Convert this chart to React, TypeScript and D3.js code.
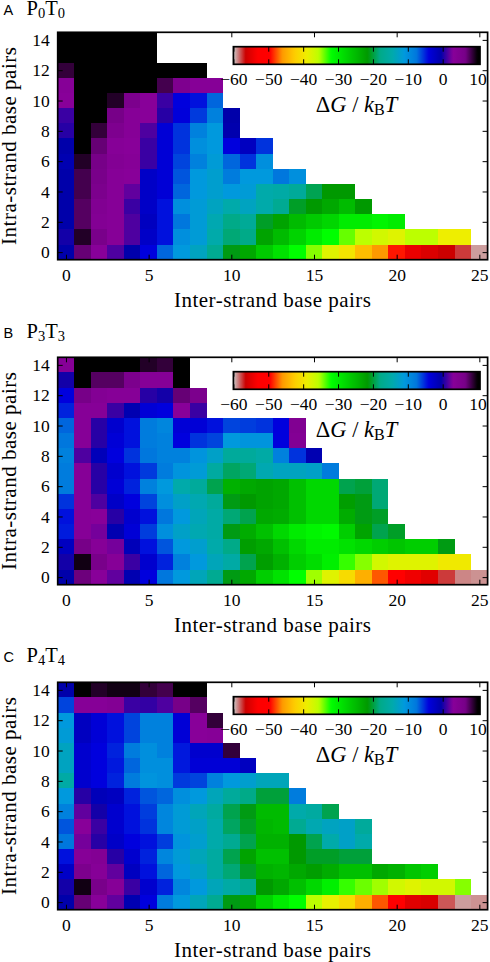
import React, { useRef, useEffect } from 'react';
import * as d3 from 'd3';

const WIDTH = 490;
const HEIGHT = 962;

// rows run from 14 intra-strand pairs at the top down to 0; a row stops where the white area begins
const p0t0 = [
  [10, 10, 10, 10, 10, 10],
  [10, 10, 10, 10, 10, 10],
  [8.5, 10, 10, 10, 10, 10, 10, 10, 10],
  [3.5, 10, 10, 10, 10, 10, 8, 5, 3.5, 3.5],
  [3, 10, 10, 9, 5.5, 3, 1, -4, -4.5, -7],
  [1, 10, 10, 6.5, 3.5, 3, 0.5, -3.8, -5.7, -8.5, -0.5],
  [0.5, 10, 8.5, 5, 3.5, 1.5, -3.5, -5.5, -8.5, -11, -0.8],
  [-0.5, 10, 7, 3.5, 3, 1, -3.5, -5.5, -10, -11, -4, -2, -5.5],
  [-1, 9, 6.5, 4, 3.5, 1, -3.5, -6, -8.5, -11.5, -7, -5.5, -10],
  [-0.5, 8, 6, 3.5, 3, -2.5, -3.5, -6.5, -11, -12, -8, -11, -11, -7.5, -10],
  [-0.5, 8, 5.5, 3.5, 2, -2.5, -3.5, -7, -11, -12, -11, -11.5, -14.5, -15, -16.2, -19.4, -21.5, -21.5],
  [-0.5, 7.5, 4.5, 3.5, 1, -2.5, -4.5, -10, -11.5, -13, -14.5, -13, -14.5, -17, -20.5, -21.5, -23, -25, -21.5],
  [-0.5, 7.5, 4, 3.5, 1.5, -2, -4.5, -7.5, -11.5, -14, -18, -16.5, -20.5, -22.5, -25, -26.5, -27.8, -30, -30, -31, -30],
  [0, 9, 6, 3.5, 1.5, -2.5, -4.5, -10, -11.5, -14.5, -18.5, -18, -22.5, -25, -27.5, -30, -32, -33.9, -35.6, -37, -38, -35.6, -35.6, -39, -39],
  [-0.5, 7, 3, 1.5, -0.5, -4, -7, -11, -13, -17, -21, -23, -26.5, -29, -32, -34.5, -38, -40, -43.5, -46, -49, -54.4, -55.4, -56.5, -57.5, -59.2],
];

const p3t3 = [
  [3.5, 10, 10, 10, 10, 9, 8.5, 10],
  [0, 10, 7.5, 7.5, 5.5, 3.5, 3.5, 10],
  [-4, 6.5, 4, 3.5, 3.5, 0.5, 0, 7, 5.5],
  [-5, 3.5, 3.5, 1, -1, -3.5, -4, 3, 1],
  [-7, 3.5, 0.5, -3, -4.5, -8, -9, -3.5, -3.5, -4.5, -6, -5.8, -5.5, -4, 4.5],
  [-7.5, 3.5, 0.5, -3.5, -4.5, -8, -8.5, -4, -5.5, -6, -11, -10.5, -10.5, -4, 4],
  [-8.5, 1.5, -1.5, -4, -5.5, -7.5, -8.5, -8.5, -10.5, -12.5, -16, -16, -15, -8.5, -5.5, -1],
  [-8, 3.5, 0.5, -3, -4.5, -5.7, -8, -10.5, -11.5, -15.5, -19, -18.5, -14, -13, -13, -12.5, -8],
  [-8, 3.5, 0.5, -3.5, -5, -8.5, -11, -14.5, -16, -19.5, -24, -23, -22.5, -23, -25.5, -28, -28, -19.5, -20, -18.5],
  [-5.5, 3.5, 1.5, -2.5, -4, -6, -10, -12.5, -14, -16, -21, -21.5, -22.5, -23, -25.5, -28, -28, -22, -21, -18.5],
  [-4.5, 3.5, 3, 0.5, -3, -4.5, -7.5, -11, -13.5, -15, -18.5, -19.5, -23, -23.5, -25.5, -28, -28, -23.5, -21, -20.5],
  [-4.8, 3.5, 2.5, -1, -3.5, -5.8, -10, -12.5, -14, -15, -21, -23.5, -25.5, -28, -30, -31, -31.5, -27, -22.5, -19.5, -20.5],
  [-2, 6.5, 3.5, 2.5, -1.5, -4.5, -6.5, -11, -12, -14.5, -18, -22, -23, -25.5, -28, -30, -30, -29, -28, -27, -26, -27, -27, -21],
  [0, 9.5, 6, 3.5, 1, -3, -5, -8.5, -11, -13.5, -15, -19.5, -22, -24, -27, -28.5, -30.5, -33, -34.5, -37, -38, -38, -38, -39.5, -39.5],
  [-0.5, 6.8, 3, 2, -1, -4, -7.5, -11, -13.5, -17, -21, -23, -27, -29, -32, -35, -38, -41, -44.5, -47.5, -50, -54, -55, -57.5, -58.8, -59],
];

const p4t4 = [
  [-0.5, 10, 9, 9.5, 9.5, 8.5, 8, 10, 10],
  [-6, 3.5, 3.5, 4, 1, 0.8, 1.5, 6.5, 7.5],
  [-11, -2, -3.5, -4.5, -6, -8.5, -8.5, -3.5, 3, 8.5],
  [-11.5, -2, -3.5, -4.5, -6, -8.5, -8.5, -3.5, 3, 3.5],
  [-13, -3, -4, -5, -8, -10, -8.5, -4.7, -3, -3, 8.5],
  [-13, -3, -4, -4.7, -7, -10, -10, -4.7, -3.5, -3.5, -3.5, -2],
  [-15, -3, -4, -5, -8, -10.5, -10, -5.7, -6, -8.5, -11, -12, -13.5, -13.5],
  [-11, 0.5, -1.5, -2, -5, -6.5, -7, -10, -11, -13.5, -16, -18, -20, -20, -8],
  [-8.5, 2, 0, -3, -4.5, -5.8, -9, -11.5, -13.5, -15.5, -19.5, -21, -25, -25, -14.5, -15.5, -19.5],
  [-6.5, 3, 1, -3, -4.5, -5.5, -9, -11.5, -12.5, -14.5, -19, -20.5, -24.5, -25, -17, -14, -13, -12.5, -16],
  [-7.5, 2.5, 0.5, -2.5, -4, -4.5, -5.8, -10.5, -12, -14.5, -17, -19.5, -24, -24, -21.5, -19.5, -14.5, -12.5, -14.5],
  [-4.5, 3.5, 4, 0.5, -3, -5, -9, -11.5, -13.5, -15.5, -19.5, -22.5, -25.5, -25.5, -21.5, -20.5, -20.5, -20, -20],
  [-2.5, 5.5, 3.5, 2, -2, -4.5, -7, -11, -12.5, -15.5, -18.5, -20.5, -24, -24.5, -23, -22, -23.5, -25.5, -25.5, -23, -24, -26, -27],
  [0, 9.5, 6, 3.5, 1, -3, -5, -9, -11, -13.5, -15, -17, -21.5, -23, -25.5, -28, -30.5, -33, -34, -35, -37, -38, -37, -37, -34.5],
  [-0.5, 7, 3, 2, -1, -4, -8, -11, -13.5, -17, -21, -23, -27.5, -30, -32, -35.5, -38.5, -41, -44.5, -47.5, -50, -55, -55.5, -58, -59.2, -59],
];

const panelLetters = ['A', 'B', 'C'];
const panelSubs = ['0', '3', '4'];
const panelData = [p0t0, p3t3, p4t4];
const panelTops = [32.3, 357.3, 682.3];
const headingRaise = [17.8, 19.3, 20.6];

const xTicks = [0, 5, 10, 15, 20, 25];
const yTicks = [0, 2, 4, 6, 8, 10, 12, 14];
const barTicks = [-60, -50, -40, -30, -20, -10, 0, 10];

// spectral colormap, position along the map and its colour
const cmapStops = [0, 0.05, 0.1, 0.15, 0.2, 0.25, 0.3, 0.35, 0.4, 0.45, 0.5, 0.55, 0.6, 0.65, 0.7, 0.75, 0.8, 0.85, 0.9, 0.95, 1];
const cmapColors = [
  '#000000', '#770088', '#880099', '#0000aa', '#0000dd', '#0077dd', '#0099dd', '#00aaaa', '#00aa88', '#009900', '#00bb00',
  '#00dd00', '#00ff00', '#bbff00', '#eeee00', '#fecc00', '#fe9900', '#ff0000', '#fe0000', '#cc0000', '#cccccc',
];

const SERIF = '"Liberation Serif", serif';

const App = () => {
  const svgRef = useRef<SVGSVGElement>(null);

  useEffect(() => {
    const svg = d3.select(svgRef.current);
    svg.selectAll('*').remove();

    const cmap = d3.scaleLinear<string>().domain(cmapStops).range(cmapColors).clamp(true);
    const toPos = d3.scaleLinear().domain([10, -60]).range([0, 1]).clamp(true);
    const colour = (v: number) => cmap(toPos(v));

    const x = d3.scaleLinear().domain([-0.5, 25.5]).range([57.7, 487.6]);
    const barX = d3.scaleLinear().domain([-60, 10.7]).range([233.4, 480]);

    const grad = svg.append('defs').append('linearGradient').attr('id', 'bar');
    d3.range(0, 141).forEach(i => {
      const v = -60 + (i * 70.7) / 140;
      grad.append('stop').attr('offset', i / 140).attr('stop-color', colour(v));
    });

    panelData.forEach((rows, p) => {
      const top = panelTops[p];
      const bottom = top + 227.4;
      const y = d3.scaleLinear().domain([-0.5, 14.5]).range([bottom, top]);
      const g = svg.append('g');

      g.selectAll('g.row')
        .data(rows)
        .join('g')
        .attr('class', 'row')
        .each(function (row, r) {
          const level = 14 - r;
          d3.select(this)
            .selectAll('rect')
            .data(row)
            .join('rect')
            .attr('x', (_, i) => x(i - 0.5))
            .attr('width', x(1) - x(0))
            .attr('y', y(level + 0.5))
            .attr('height', y(0) - y(1))
            .attr('fill', d => colour(d))
            .attr('shape-rendering', 'crispEdges');
        });

      const axisStyle = (sel: any) => {
        sel.attr('font-family', SERIF).attr('font-size', 17.5);
        sel.selectAll('line').attr('stroke', '#000').attr('stroke-width', 1);
        sel.select('.domain').remove();
      };

      g.append('g')
        .attr('transform', `translate(0,${bottom})`)
        .call(d3.axisBottom(x).tickValues(xTicks).tickFormat(d3.format('d')).tickSize(-5).tickPadding(9))
        .call(axisStyle);
      g.append('g')
        .attr('transform', `translate(0,${top})`)
        .call(d3.axisTop(x).tickValues(xTicks).tickFormat(() => '').tickSize(-5))
        .call(axisStyle);
      g.append('g')
        .attr('transform', `translate(${x.range()[0]},0)`)
        .call(d3.axisLeft(y).tickValues(yTicks).tickFormat(d3.format('d')).tickSize(-5).tickPadding(8))
        .call(axisStyle);
      g.append('g')
        .attr('transform', `translate(${x.range()[1]},0)`)
        .call(d3.axisRight(y).tickValues(yTicks).tickFormat(() => '').tickSize(-5))
        .call(axisStyle);

      g.append('rect')
        .attr('x', x.range()[0])
        .attr('y', top)
        .attr('width', x.range()[1] - x.range()[0])
        .attr('height', bottom - top)
        .attr('fill', 'none')
        .attr('stroke', '#000')
        .attr('stroke-width', 1.7);

      // colour bar
      const barTop = top + 14.4;
      const barH = 17.6;
      g.append('rect')
        .attr('x', barX.range()[0])
        .attr('y', barTop)
        .attr('width', barX.range()[1] - barX.range()[0])
        .attr('height', barH)
        .attr('fill', 'url(#bar)')
        .attr('stroke', '#000')
        .attr('stroke-width', 1.7);
      g.append('g')
        .attr('transform', `translate(0,${barTop + barH})`)
        .call(d3.axisBottom(barX).tickValues(barTicks).tickFormat(d3.format('d')).tickSize(-5).tickPadding(8))
        .call(axisStyle);
      g.append('g')
        .attr('transform', `translate(0,${barTop})`)
        .call(d3.axisTop(barX).tickValues(barTicks).tickFormat(() => '').tickSize(-5))
        .call(axisStyle);

      const barLabel = g
        .append('text')
        .attr('x', 356.5)
        .attr('y', top + 79.5)
        .attr('text-anchor', 'middle')
        .attr('font-family', SERIF)
        .attr('font-size', 22.5);
      barLabel.append('tspan').text('Δ');
      barLabel.append('tspan').attr('font-style', 'italic').text('G');
      barLabel.append('tspan').text(' / ');
      barLabel.append('tspan').attr('font-style', 'italic').text('k');
      barLabel.append('tspan').attr('font-size', 16).attr('dy', 3).text('B');
      barLabel.append('tspan').attr('font-style', 'italic').attr('dy', -3).text('T');

      // axis titles
      g.append('text')
        .attr('x', 272.5)
        .attr('y', bottom + 47)
        .attr('text-anchor', 'middle')
        .attr('font-family', SERIF)
        .attr('font-size', 21)
        .attr('textLength', 197)
        .text('Inter-strand base pairs');
      g.append('text')
        .attr('transform', `translate(16,${top + 113.7}) rotate(-90)`)
        .attr('text-anchor', 'middle')
        .attr('font-family', SERIF)
        .attr('font-size', 21)
        .attr('textLength', 198)
        .text('Intra-strand base pairs');

      // panel heading
      g.append('text')
        .attr('x', 3.5)
        .attr('y', top - headingRaise[p])
        .attr('font-family', '"Liberation Sans", sans-serif')
        .attr('font-size', 14.5)
        .text(panelLetters[p]);
      const head = g
        .append('text')
        .attr('x', 26.5)
        .attr('y', top - headingRaise[p])
        .attr('font-family', SERIF)
        .attr('font-size', 20.5);
      head.append('tspan').text('P');
      head.append('tspan').attr('font-size', 14.5).attr('dy', 3).text(panelSubs[p]);
      head.append('tspan').attr('dy', -3).text('T');
      head.append('tspan').attr('font-size', 14.5).attr('dy', 3).text(panelSubs[p]);
    });
  }, []);

  return (
    <svg
      ref={svgRef}
      width={WIDTH}
      height={HEIGHT}
      style={{ position: 'absolute', left: 0, top: 0, background: '#fff' }}
    />
  );
};

export default App;
